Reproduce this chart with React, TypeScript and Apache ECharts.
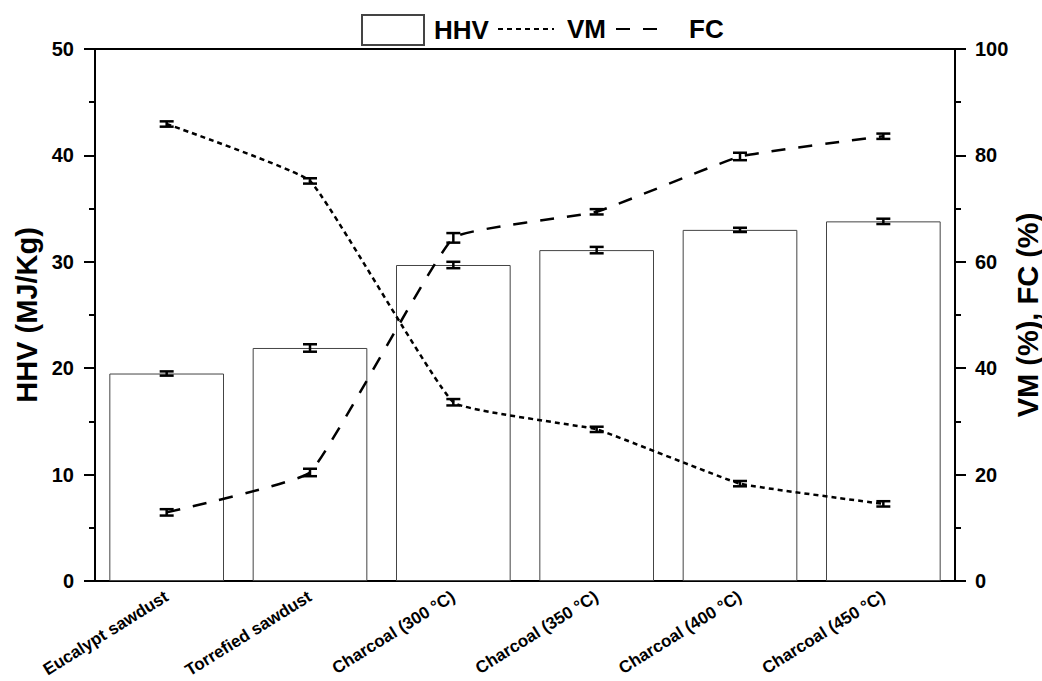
import React, { useEffect, useRef } from "react";
import * as echarts from "echarts";

const categories = [
  "Eucalypt sawdust",
  "Torrefied sawdust",
  "Charcoal (300 °C)",
  "Charcoal (350 °C)",
  "Charcoal (400 °C)",
  "Charcoal (450 °C)",
];
const hhv = [19.5, 21.9, 29.7, 31.1, 33.0, 33.8];
const hhvErr = [0.2, 0.35, 0.3, 0.3, 0.2, 0.25];
const vm = [85.9, 75.2, 33.6, 28.5, 18.3, 14.5];
const vmErr = [0.5, 0.5, 0.6, 0.5, 0.5, 0.5];
const fc = [12.9, 20.4, 64.5, 69.4, 79.8, 83.6];
const fcErr = [0.6, 0.7, 0.9, 0.5, 0.7, 0.5];

const FONT = "'Liberation Sans', Arial, sans-serif";

function errData(vals: number[], errs: number[]) {
  return vals.map((v, i) => [i, v - errs[i], v + errs[i]]);
}

function renderErr(params: any, api: any) {
  const x = api.value(0);
  const lo = api.coord([x, api.value(1)]);
  const hi = api.coord([x, api.value(2)]);
  const w = 7;
  const style = { stroke: "#000", lineWidth: 2.5 };
  return {
    type: "group",
    children: [
      { type: "line", shape: { x1: lo[0], y1: lo[1], x2: hi[0], y2: hi[1] }, style },
      { type: "line", shape: { x1: lo[0] - w, y1: lo[1], x2: lo[0] + w, y2: lo[1] }, style },
      { type: "line", shape: { x1: hi[0] - w, y1: hi[1], x2: hi[0] + w, y2: hi[1] }, style },
    ],
  };
}

export default function App() {
  const ref = useRef<HTMLDivElement>(null);
  useEffect(() => {
    document.body.style.margin = "0";
    const chart = echarts.init(ref.current!, null, { renderer: "svg" });
    const legendText = { fontFamily: FONT, fontWeight: "bold", fontSize: 26, color: "#000" };
    const hiddenSymbol = { opacity: 0, color: "transparent", borderWidth: 0 };
    chart.setOption({
      animation: false,
      backgroundColor: "#fff",
      grid: {
        left: 95, right: 87, top: 49, bottom: 100,
        outerBoundsMode: "none", containLabel: false,
        show: true, borderColor: "#000", borderWidth: 2, backgroundColor: "transparent",
      },
      legend: [
        { data: [{ name: "HHV", icon: "rect" }], left: 361, top: 14, itemWidth: 62, itemHeight: 30, textStyle: { ...legendText, padding: [0, 0, 0, 5] }, padding: 0 },
        { data: [{ name: "VM", itemStyle: hiddenSymbol }], left: 497, top: 16, itemWidth: 56, itemHeight: 26, textStyle: { ...legendText, padding: [0, 0, 0, 8] }, padding: 0 },
        { data: [{ name: "FC", itemStyle: hiddenSymbol }], left: 615, top: 16, itemWidth: 50, itemHeight: 26, textStyle: { ...legendText, padding: [0, 0, 0, 18] }, padding: 0 },
      ],
      xAxis: [
        {
          type: "category",
          data: categories,
          axisLine: { lineStyle: { color: "#000", width: 2 } },
          axisTick: { alignWithLabel: true, length: 11, lineStyle: { width: 2, color: "#000" } },
          axisLabel: { rotate: 32, fontFamily: FONT, fontWeight: "bold", fontSize: 17, color: "#000", margin: 14, interval: 0 },
        },
        {
          type: "category",
          data: categories,
          position: "bottom",
          axisLine: { show: false },
          axisTick: { length: 6, lineStyle: { width: 2, color: "#000" } },
          axisLabel: { show: false },
        },
      ],
      yAxis: [
        {
          type: "value",
          min: 0,
          max: 50,
          interval: 10,
          name: "HHV (MJ/Kg)",
          nameLocation: "middle",
          nameRotate: 90,
          nameGap: 54,
          nameMoveOverlap: false,
          nameTextStyle: { fontFamily: FONT, fontWeight: "bold", fontSize: 29, color: "#000" },
          axisLine: { show: true, lineStyle: { color: "#000", width: 2 } },
          axisTick: { show: true, length: 11, lineStyle: { width: 2, color: "#000" } },
          minorTick: { show: true, splitNumber: 2, length: 6, lineStyle: { width: 2, color: "#000" } },
          splitLine: { show: false },
          axisLabel: { fontFamily: FONT, fontWeight: "bold", fontSize: 20, color: "#000", margin: 21 },
        },
        {
          type: "value",
          min: 0,
          max: 100,
          interval: 20,
          position: "right",
          name: "VM (%), FC (%)",
          nameLocation: "middle",
          nameRotate: 90,
          nameGap: 58,
          nameMoveOverlap: false,
          nameTextStyle: { fontFamily: FONT, fontWeight: "bold", fontSize: 29, color: "#000" },
          axisLine: { show: true, lineStyle: { color: "#000", width: 2 } },
          axisTick: { show: true, length: 11, lineStyle: { width: 2, color: "#000" } },
          minorTick: { show: true, splitNumber: 2, length: 6, lineStyle: { width: 2, color: "#000" } },
          splitLine: { show: false },
          axisLabel: { fontFamily: FONT, fontWeight: "bold", fontSize: 20, color: "#000", margin: 20 },
        },
      ],
      series: [
        {
          name: "HHV",
          type: "bar",
          data: hhv,
          barWidth: "80%",
          yAxisIndex: 0,
          itemStyle: { color: "#fff", borderColor: "#444", borderWidth: 1 },
        },
        {
          name: "VM",
          type: "line",
          data: vm,
          yAxisIndex: 1,
          symbol: "none",
          smooth: 0.1,
          lineStyle: { color: "#000", width: 2.5, type: [5, 4] },
          itemStyle: { color: "#000" },
          z: 3,
        },
        {
          name: "FC",
          type: "line",
          data: fc,
          yAxisIndex: 1,
          symbol: "none",
          smooth: 0.1,
          lineStyle: { color: "#000", width: 2.5, type: [14, 13] },
          itemStyle: { color: "#000" },
          z: 3,
        },
        { type: "custom", yAxisIndex: 0, data: errData(hhv, hhvErr), renderItem: renderErr, z: 4 },
        { type: "custom", yAxisIndex: 1, data: errData(vm, vmErr), renderItem: renderErr, z: 4 },
        { type: "custom", yAxisIndex: 1, data: errData(fc, fcErr), renderItem: renderErr, z: 4 },
      ],
    });
    return () => chart.dispose();
  }, []);
  return <div ref={ref} style={{ width: 1042, height: 681 }} />;
}
